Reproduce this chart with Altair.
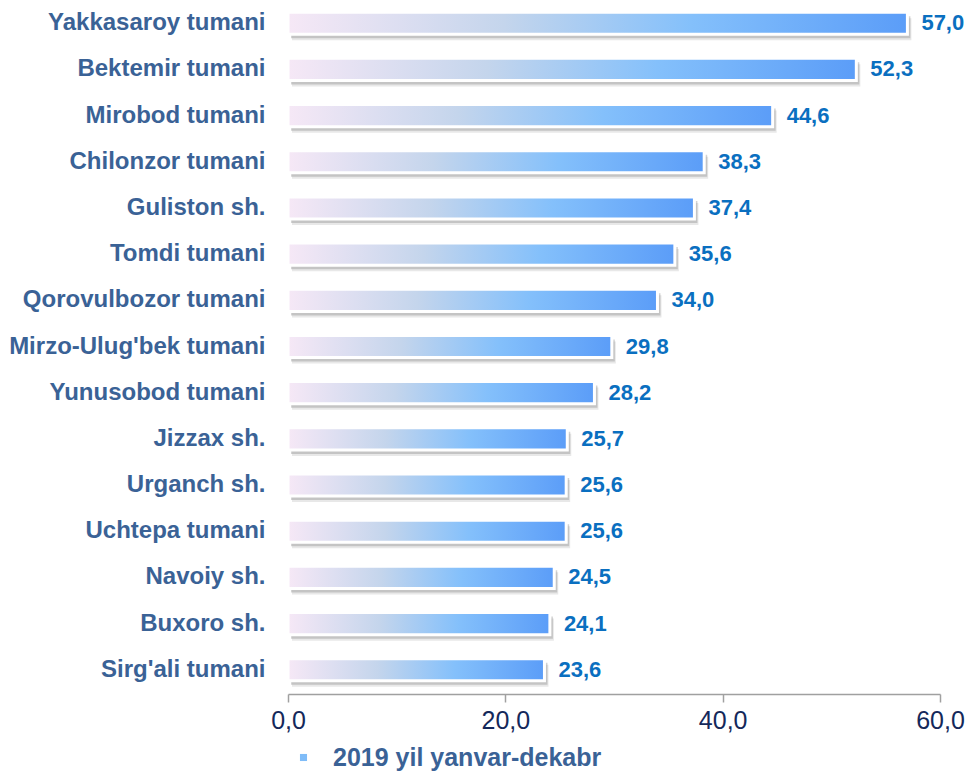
import altair as alt
import pandas as pd

districts = ["Yakkasaroy tumani", "Bektemir tumani", "Mirobod tumani", "Chilonzor tumani",
             "Guliston sh.", "Tomdi tumani", "Qorovulbozor tumani", "Mirzo-Ulug'bek tumani",
             "Yunusobod tumani", "Jizzax sh.", "Urganch sh.", "Uchtepa tumani",
             "Navoiy sh.", "Buxoro sh.", "Sirg'ali tumani"]
values = [57.0, 52.3, 44.6, 38.3, 37.4, 35.6, 34.0, 29.8, 28.2, 25.7, 25.6, 25.6, 24.5, 24.1, 23.6]
series_name = "2019 yil yanvar-dekabr"
x_ticks = [0, 20, 40, 60]

df = pd.DataFrame({"district": districts, "value": values})
df["label"] = [f"{v:.1f}".replace(".", ",") for v in values]
df["series"] = series_name

FONT = "Liberation Sans"

gradient = {
    "gradient": "linear",
    "x1": 0, "x2": 1, "y1": 0, "y2": 0,
    "stops": [
        {"offset": 0.0, "color": "#f6e8f6"},
        {"offset": 0.35, "color": "#c4d5ec"},
        {"offset": 0.65, "color": "#84c0fb"},
        {"offset": 1.0, "color": "#5b9df8"},
    ],
}

y_enc = alt.Y(
    "district:N", sort=districts, title=None,
    scale=alt.Scale(paddingInner=0.52, paddingOuter=0.09),
    axis=alt.Axis(labelFontSize=24, labelFontWeight="bold", labelColor="#3a6296",
                  labelFont=FONT, ticks=False, domain=False, grid=False,
                  labelPadding=23, labelLimit=400),
)
x_enc = alt.X(
    "value:Q", title=None,
    scale=alt.Scale(domain=[0, 60], nice=False),
    axis=alt.Axis(values=x_ticks, labelExpr="replace(format(datum.value, '.1f'), '.', ',')",
                  labelFontSize=25, labelFont=FONT, labelColor="#14285a",
                  tickSize=8, tickColor="#a0a0a0", domainColor="#a0a0a0", tickWidth=1.5,
                  domainWidth=1.5, grid=False, offset=9, labelPadding=6, labelFlush=False),
)

base = alt.Chart(df)

shadow2 = base.mark_bar(color="#808080", opacity=0.18, xOffset=4, yOffset=6).encode(x=x_enc, y=y_enc)
shadow = base.mark_bar(color="#808080", opacity=0.35, xOffset=3, yOffset=4).encode(x=x_enc, y=y_enc)
bars = base.mark_bar(color=gradient, stroke="white", strokeWidth=3).encode(x=x_enc, y=y_enc)
labels = base.mark_text(align="left", baseline="middle", dx=14, fontSize=22, fontWeight="bold",
                        font=FONT, color="#0a6fc0").encode(x=x_enc, y=y_enc, text="label:N")
legend_layer = base.mark_point(opacity=0, filled=True, color="#7fbcf8").encode(
    x=x_enc, y=y_enc,
    shape=alt.Shape("series:N", scale=alt.Scale(range=["square"]),
                    legend=alt.Legend(title=None, orient="none", legendX=3, legendY=737,
                                      symbolFillColor="#7fbcf8", symbolStrokeWidth=0,
                                      symbolOpacity=1, symbolSize=50, labelFontSize=25,
                                      labelFontWeight="bold", labelColor="#3a6296",
                                      labelFont=FONT, labelOffset=17, labelLimit=500)),
)

chart = alt.layer(shadow2, shadow, bars, labels, legend_layer).properties(
    width=652, height=677,
    background="white",
    autosize=alt.AutoSizeParams(type="none"),
    padding={"left": 280, "top": 0, "right": 28, "bottom": 89},
).configure_view(stroke=None, strokeWidth=0).configure_axis(grid=False)

chart.save("out.html", embed_options={"renderer": "svg", "actions": False})
